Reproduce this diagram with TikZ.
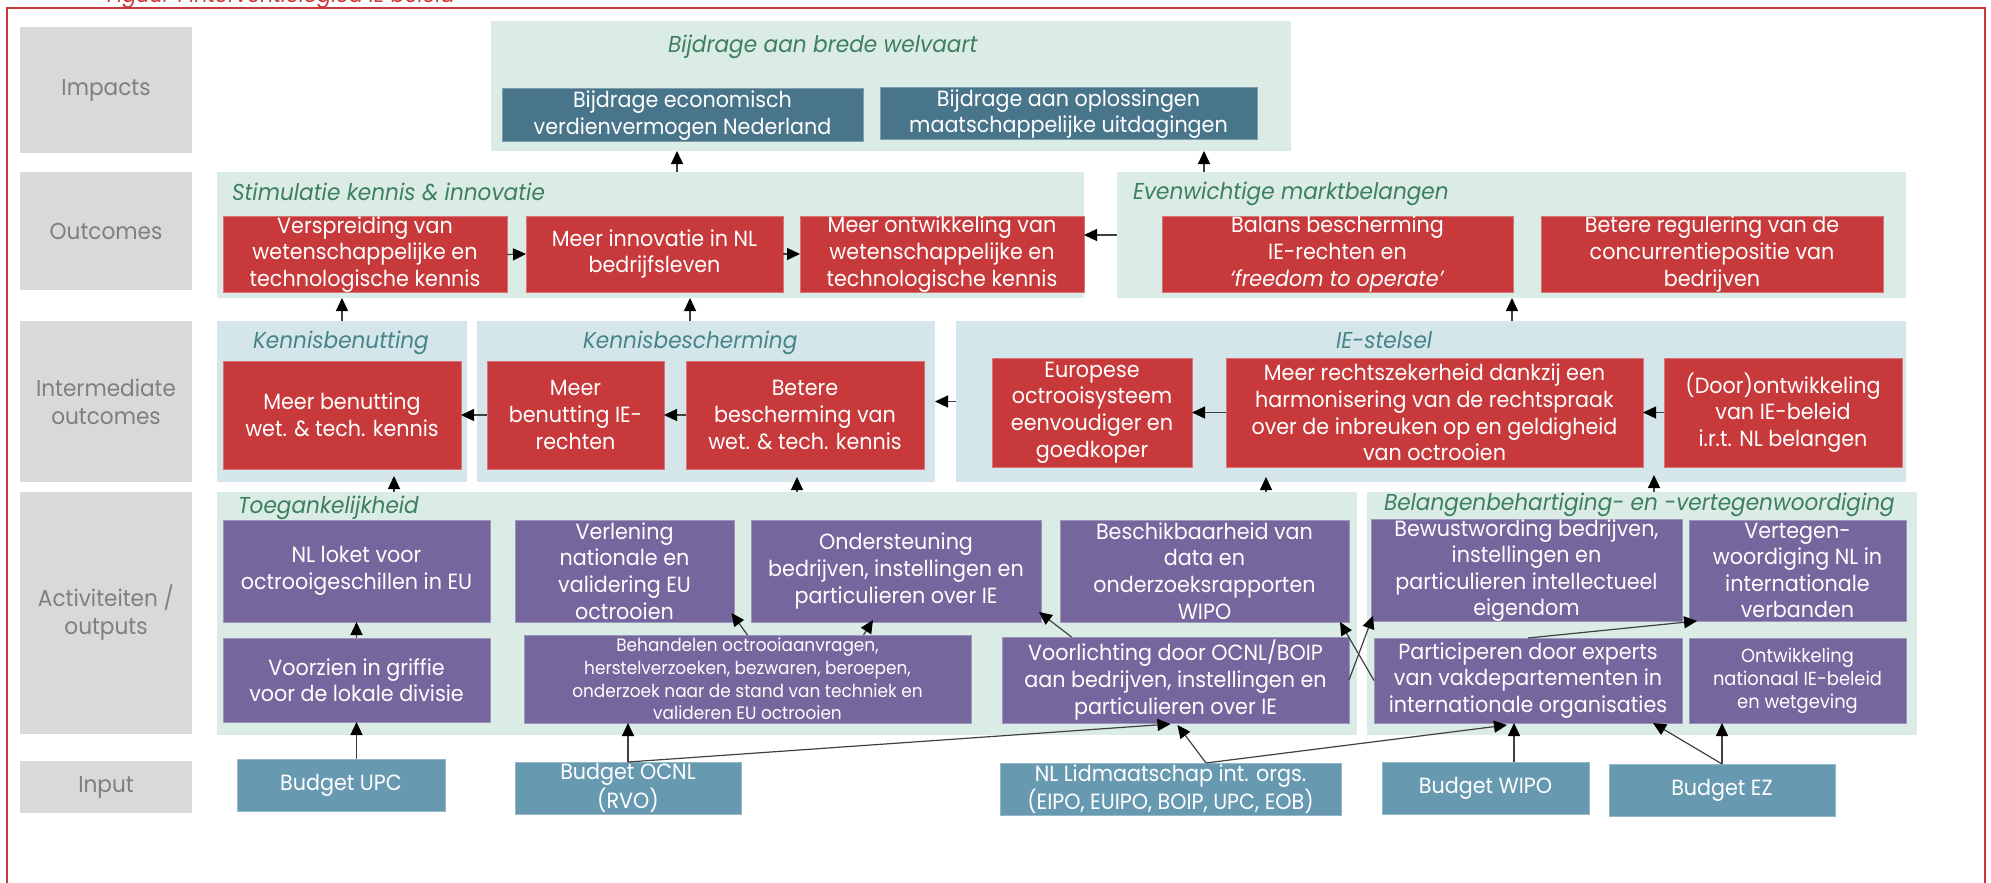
\documentclass[tikz,border=0pt]{standalone}
\usepackage{fontspec}
\setmainfont{Poppins}[FakeStretch=0.94]
\usetikzlibrary{arrows.meta}
\definecolor{lblgray}{HTML}{D9D9D9}
\definecolor{lbltext}{HTML}{7F7F7F}
\definecolor{mint}{HTML}{DAECE5}
\definecolor{paleblue}{HTML}{D5E6EA}
\definecolor{ttlgreen}{HTML}{3D7F5E}
\definecolor{ttlteal}{HTML}{458589}
\definecolor{boxred}{HTML}{C8393B}
\definecolor{impblue}{HTML}{48758A}
\definecolor{boxpurple}{HTML}{76669E}
\definecolor{inblue}{HTML}{6799B1}
\definecolor{framered}{HTML}{C8393B}
\definecolor{arrgray}{HTML}{404040}
\begin{document}
\begin{tikzpicture}[x=0.5pt,y=-0.5pt,
  bb/.style n args={4}{at={({(#1+#3)/2},{(#2+#4)/2})},minimum width={(#3-#1)*0.5pt},minimum height={(#4-#2)*0.5pt}},
  every node/.style={inner sep=0pt,outer sep=0pt},
  lbl/.style={rectangle,fill=lblgray,text=lbltext,align=center,font=\fontsize{11.5}{14}\selectfont},
  grpA/.style={rectangle,fill=mint},
  grpB/.style={rectangle,fill=paleblue},
  ttlA/.style={anchor=base west,text=ttlgreen,font=\fontsize{11.5}{14}\selectfont\itshape},
  ttlB/.style={anchor=base west,text=ttlteal,font=\fontsize{11.5}{14}\selectfont\itshape},
  boxbase/.style={rectangle,align=center,text=white,font=\fontsize{11}{13.3}\selectfont,line width=0.5pt},
  impbox/.style={boxbase,fill=impblue,draw=impblue!70!white},
  redbox/.style={boxbase,fill=boxred,draw=boxred!70!white},
  purbox/.style={boxbase,fill=boxpurple,draw=boxpurple!70!white},
  inbox/.style={boxbase,fill=inblue,draw=inblue!70!white},
  arr/.style={draw=arrgray,line width=0.6pt,-{Triangle[length=6.5pt,width=6pt,color=black]}}
]
\useasboundingbox (0,0) rectangle (1991,883);
% frame and caption
\draw[framered,line width=1pt] (7,8) rectangle (1985,900);
\node[anchor=base west,text=framered,font=\fontsize{11}{13}\selectfont\itshape] (cap) at (107,3) {Figuur 1 Interventielogica IE beleid};

% row labels
\node[lbl,bb={20}{27}{192}{153}] (L1) {Impacts};
\node[lbl,bb={20}{172}{192}{290}] (L2) {Outcomes};
\node[lbl,bb={20}{321}{192}{482}] (L3) {Intermediate\\outcomes};
\node[lbl,bb={20}{492}{192}{734}] (L4) {Activiteiten /\\outputs};
\node[lbl,bb={20}{761}{192}{813}] (L5) {Input};

% groups
\node[grpA,bb={491}{21}{1291}{151}] (imp) {};
\node[grpA,bb={217}{172}{1084}{298}] (stim) {};
\node[grpA,bb={1117}{172}{1906}{298}] (even) {};
\node[grpB,bb={217}{321}{467}{482}] (kben) {};
\node[grpB,bb={477}{321}{935}{482}] (kbs) {};
\node[grpB,bb={956}{321}{1906}{482}] (ies) {};
\node[grpA,bb={217}{492}{1357}{735}] (toeg) {};
\node[grpA,bb={1367}{492}{1917}{735}] (bel) {};

% group titles
\node[ttlA] (t1) at (668,53) {Bijdrage aan brede welvaart};
\node[ttlA] (t2) at (232,200) {Stimulatie kennis \& innovatie};
\node[ttlA] (t3) at (1133,199) {Evenwichtige marktbelangen};
\node[ttlB] (t4) at (253,348) {Kennisbenutting};
\node[ttlB] (t5) at (583,348) {Kennisbescherming};
\node[ttlB] (t6) at (1336,348) {IE-stelsel};
\node[ttlA] (t7) at (238,513) {Toegankelijkheid};
\node[ttlA] (t8) at (1384,510) {Belangenbehartiging- en -vertegenwoordiging};

% impacts
\node[impbox,bb={502}{89}{863}{142}] (imp1) {Bijdrage economisch\\verdienvermogen Nederland};
\node[impbox,bb={880}{88}{1257}{140}] (imp2) {Bijdrage aan oplossingen\\maatschappelijke uitdagingen};

% outcomes
\node[redbox,bb={223}{217}{507}{292}] (o1) {Verspreiding van\\wetenschappelijke en\\technologische kennis};
\node[redbox,bb={526}{216}{783}{292}] (o2) {Meer innovatie in NL\\bedrijfsleven};
\node[redbox,bb={800}{216}{1084}{292}] (o3) {Meer ontwikkeling van\\wetenschappelijke en\\technologische kennis};
\node[redbox,bb={1162}{216}{1513}{292}] (o4) {Balans bescherming\\IE-rechten en\\\textit{‘freedom to operate’}};
\node[redbox,bb={1541}{216}{1883}{292}] (o5) {Betere regulering van de\\concurrentiepositie van\\bedrijven};

% intermediate outcomes
\node[redbox,bb={223}{361}{461}{469}] (i1) {Meer benutting\\wet. \& tech. kennis};
\node[redbox,bb={487}{361}{664}{469}] (i2) {Meer\\benutting IE-\\rechten};
\node[redbox,bb={686}{361}{924}{469}] (i3) {Betere\\bescherming van\\wet. \& tech. kennis};
\node[redbox,bb={992}{358}{1192}{467}] (i4) {Europese\\octrooisysteem\\eenvoudiger en\\goedkoper};
\node[redbox,bb={1226}{358}{1643}{467}] (i5) {Meer rechtszekerheid dankzij een\\harmonisering van de rechtspraak\\over de inbreuken op en geldigheid\\van octrooien};
\node[redbox,bb={1664}{358}{1902}{467}] (i6) {(Door)ontwikkeling\\van IE-beleid\\i.r.t. NL belangen};

% activities / outputs
\node[purbox,bb={223}{520}{490}{622}] (a1) {NL loket voor\\octrooigeschillen in EU};
\node[purbox,bb={515}{520}{734}{622}] (a2) {Verlening\\nationale en\\validering EU\\octrooien};
\node[purbox,bb={751}{520}{1041}{622}] (a3) {Ondersteuning\\bedrijven, instellingen en\\particulieren over IE};
\node[purbox,bb={1060}{520}{1349}{622}] (a4) {Beschikbaarheid van\\data en\\onderzoeksrapporten\\WIPO};
\node[purbox,bb={1371}{520}{1682}{621}] (a5) {Bewustwording bedrijven,\\instellingen en\\particulieren intellectueel\\eigendom};
\node[purbox,bb={1689}{520}{1906}{621}] (a6) {Vertegen-\\woordiging NL in\\internationale\\verbanden};
\node[purbox,bb={223}{638}{490}{722}] (a7) {Voorzien in griffie\\voor de lokale divisie};
\node[purbox,bb={524}{635}{971}{723},font=\fontsize{9}{11.3}\selectfont] (a8) {Behandelen octrooiaanvragen,\\herstelverzoeken, bezwaren, beroepen,\\onderzoek naar de stand van techniek en\\valideren EU octrooien};
\node[purbox,bb={1002}{637}{1349}{723}] (a9) {Voorlichting door OCNL/BOIP\\aan bedrijven, instellingen en\\particulieren over IE};
\node[purbox,bb={1374}{638}{1682}{723}] (a10) {Participeren door experts\\van vakdepartementen in\\internationale organisaties};
\node[purbox,bb={1689}{638}{1906}{723},font=\fontsize{9.5}{11.5}\selectfont] (a11) {Ontwikkeling\\nationaal IE-beleid\\en wetgeving};

% inputs
\node[inbox,bb={237}{759}{445}{811}] (upc) {Budget UPC};
\node[inbox,bb={515}{762}{741}{814},font=\fontsize{11}{12}\selectfont] (ocnl) {Budget OCNL\\(RVO)};
\node[inbox,bb={1000}{763}{1341}{815},font=\fontsize{11}{12}\selectfont] (lid) {NL Lidmaatschap int. orgs.\\(EIPO, EUIPO, BOIP, UPC, EOB)};
\node[inbox,bb={1382}{762}{1589}{814}] (wipo) {Budget WIPO};
\node[inbox,bb={1609}{764}{1835}{816}] (ez) {Budget EZ};

% helper coordinates
\coordinate (c342) at (342,0);
\coordinate (c690) at (690,0);
\coordinate (c1512) at (1512,0);
\coordinate (c677) at (677,0);
\coordinate (c1204) at (1204,0);
\coordinate (c1514) at (1514,0);
\coordinate (t394) at (394,476);
\coordinate (t797) at (797,477);
\coordinate (t1266) at (1266,477);
\coordinate (t1654) at (1654,475);

% connectors: outcomes and impacts
\draw[arr] (o1.east) -- (o2.west);
\draw[arr] (o2.east) -- (o3.west);
\draw[arr] (even.west) -- (o3.east |- even.west);
\draw[arr] (stim.north -| c677) -- (imp.south -| c677);
\draw[arr] (even.north -| c1204) -- (imp.south -| c1204);
% intermediate
\draw[arr] (i3.west) -- (i2.east);
\draw[arr] (i2.west) -- (i1.east);
\draw[arr] (ies.west) -- (kbs.east |- ies.west);
\draw[arr] (i5.west) -- (i4.east);
\draw[arr] (i6.west) -- (i5.east);
\draw[arr] (kben.north -| c342) -- (stim.south -| c342);
\draw[arr] (kbs.north -| c690) -- (stim.south -| c690);
\draw[arr] (ies.north -| c1512) -- (even.south -| c1512);
\draw[arr] (toeg.north -| t394) -- (t394);
\draw[arr] (toeg.north -| t797) -- (t797);
\draw[arr] (toeg.north -| t1266) -- (t1266);
\draw[arr] (bel.north -| t1654) -- (t1654);
% activities
\draw[arr] (a7.north) -- (a1.south);
\draw[arr] (upc.north -| a7.south) -- (a7.south);
\draw[arr] (a8.north) -- ([xshift=-1.25pt,yshift=4.5pt]a2.south east);
\draw[arr] ([xshift=58pt]a8.north) -- ([xshift=-11.5pt,yshift=1pt]a3.south);
\draw[arr] ([xshift=-52pt]a9.north) -- ([xshift=-1pt,yshift=5pt]a3.south east);
\draw[arr] (a10.west) -- ([xshift=-4.5pt]a4.south east);
\draw[arr] (a9.east) -- ([xshift=1pt,yshift=3pt]a5.south west);
\draw[arr] (a10.north) -- ([xshift=4pt]a6.south west);
% inputs
\draw[arr] (ocnl.north) -- (ocnl.north |- a8.south);
\draw[arr] (ocnl.north) -- ([xshift=-2.5pt,yshift=-0.5pt]a9.south);
\draw[arr] ([xshift=17.75pt]lid.north) -- ([xshift=1pt,yshift=-1pt]a9.south);
\draw[arr] ([xshift=17.75pt]lid.north) -- ([xshift=-10.5pt,yshift=-1pt]a10.south);
\draw[arr] (wipo.north -| c1514) -- (a10.south -| c1514);
\draw[arr] (ez.north) -- ([xshift=-14.5pt]a10.south east);
\draw[arr] (ez.north) -- (ez.north |- a11.south);
\end{tikzpicture}
\end{document}
